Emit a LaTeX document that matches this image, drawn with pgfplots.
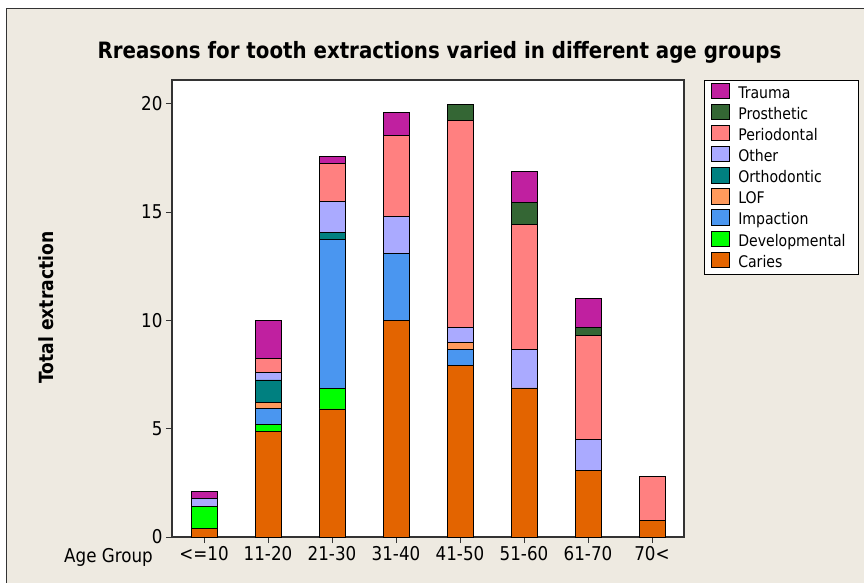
\documentclass[border=0pt]{standalone}
\usepackage{fontspec}
\setmainfont{DejaVu Sans}[FakeStretch=0.88]
\usepackage{pgfplots}
\pgfplotsset{compat=1.18}
\usepackage{pgfplotstable}

\definecolor{figbg}{HTML}{EEEAE1}
\definecolor{axisgray}{HTML}{333333}
\definecolor{cCaries}{HTML}{E36400}
\definecolor{cDev}{HTML}{00FF00}
\definecolor{cImp}{HTML}{4A96F0}
\definecolor{cLOF}{HTML}{FF9A5C}
\definecolor{cOrth}{HTML}{008080}
\definecolor{cOther}{HTML}{AAAAFF}
\definecolor{cPerio}{HTML}{FF8080}
\definecolor{cPros}{HTML}{346634}
\definecolor{cTrauma}{HTML}{C020A0}

\newcommand{\legtext}[1]{\makebox[113bp][l]{#1}}

% x: 0 = <=10, ..., 7 = 70<
\pgfplotstableread{
x caries dev impaction lof orthodontic other periodontal prosthetic trauma
0 0.40 1.02 0    0    0    0.37 0    0    0.29
1 4.86 0.34 0.73 0.27 1.05 0.34 0.66 0    1.75
2 5.91 0.96 6.85 0    0.35 1.40 1.76 0    0.34
3 10.0 0    3.10 0    0    1.70 3.72 0    1.08
4 7.93 0    0.71 0.33 0    0.70 9.58 0.72 0
5 6.88 0    0    0    0    1.76 5.79 1.03 1.43
6 3.09 0    0    0    0    1.42 4.81 0.37 1.34
7 0.75 0    0    0    0    0    2.04 0    0
}\agedata

\begin{document}
\begin{tikzpicture}
\useasboundingbox (0,0) rectangle (864bp,583bp);
\fill[white] (0,0) rectangle (864bp,583bp);
\fill[figbg] (6bp,0) rectangle (864bp,574bp);
\draw[line width=1bp, axisgray] (6bp,0) -- (6bp,574bp) -- (864bp,574bp);
\begin{axis}[
    at={(172bp,46bp)}, anchor=south west,
    scale only axis, width=512bp, height=457bp,
    clip=false,
    ybar stacked, bar width=26bp,
    xmin=-0.5, xmax=7.5, ymin=0, ymax=21.1,
    xtick={0,...,7},
    xticklabels={<=10,11-20,21-30,31-40,41-50,51-60,61-70,70<},
    ytick={0,5,10,15,20},
    xtick pos=bottom, ytick pos=left, tick align=outside,
    major tick length=6bp,
    tick style={line width=1bp, axisgray},
    axis line style={line width=1.2bp, axisgray},
    axis background/.style={fill=white},
    ticklabel style={font=\fontsize{19bp}{22bp}\selectfont},
    /pgf/number format/assume math mode=true,
    every axis plot/.append style={draw=black, line width=0.9bp},
    legend cell align=left, reverse legend,
    legend image code/.code={
        \draw[#1, line width=0.8bp, overlay] (0bp,-5.4bp) rectangle (18bp,9.9bp);
        \path (0bp,0bp) (26bp,0bp);
    },
    legend style={at={(rel axis cs:1.039,1)}, anchor=north west,
        draw=black, line width=0.8bp, fill=white,
        font=\fontsize{16bp}{16bp}\selectfont,
        inner xsep=7bp, inner ysep=2.2bp, row sep=0bp, column sep=0bp,
        nodes={inner sep=0pt, text height=15.8bp, text depth=5.3bp}},
]
\addplot[fill=cCaries] table[x=x, y=caries] {\agedata};
\addlegendentry{\legtext{Caries}}
\addplot[fill=cDev] table[x=x, y=dev] {\agedata};
\addlegendentry{\legtext{Developmental}}
\addplot[fill=cImp] table[x=x, y=impaction] {\agedata};
\addlegendentry{\legtext{Impaction}}
\addplot[fill=cLOF] table[x=x, y=lof] {\agedata};
\addlegendentry{\legtext{LOF}}
\addplot[fill=cOrth] table[x=x, y=orthodontic] {\agedata};
\addlegendentry{\legtext{Orthodontic}}
\addplot[fill=cOther] table[x=x, y=other] {\agedata};
\addlegendentry{\legtext{Other}}
\addplot[fill=cPerio] table[x=x, y=periodontal] {\agedata};
\addlegendentry{\legtext{Periodontal}}
\addplot[fill=cPros] table[x=x, y=prosthetic] {\agedata};
\addlegendentry{\legtext{Prosthetic}}
\addplot[fill=cTrauma] table[x=x, y=trauma] {\agedata};
\addlegendentry{\legtext{Trauma}}

\node[anchor=base, font=\bfseries\fontsize{22.5bp}{26bp}\selectfont]
    at (rel axis cs:0.5225,1.046) {Rreasons for tooth extractions varied in different age groups};
\node[anchor=base, rotate=90, font=\bfseries\fontsize{19.5bp}{22bp}\selectfont]
    at (rel axis cs:-0.2324,0.502) {Total extraction};
\node[anchor=base west, font=\fontsize{19bp}{22bp}\selectfont]
    at (rel axis cs:-0.2174,-0.0554) {Age Group};
\end{axis}
\end{tikzpicture}
\end{document}
